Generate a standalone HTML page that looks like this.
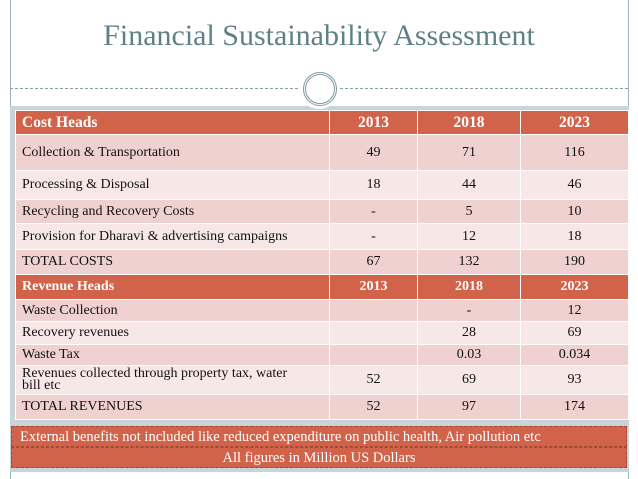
<!DOCTYPE html>
<html><head><meta charset="utf-8"><style>
body{margin:0;width:638px;height:479px;background:#fff;position:relative;overflow:hidden;font-family:"Liberation Serif",serif;}
.abs{position:absolute;}
table{border-collapse:collapse;table-layout:fixed;}
td{border:1.5px solid #fff;padding:0 0 0 6px;font-size:14px;color:#111;}
td.n{text-align:center;padding:0;}
tr.h td{background:#d0634a;color:#fff;font-weight:bold;font-size:15.5px;}
tr.h2 td{font-size:14px;}
tr.a td{background:#efd2cf;}
tr.b td{background:#f7e8e7;}
.box{position:absolute;left:11px;width:616px;background:#d0634a;color:#fff;font-size:14.5px;border:1px dashed #a04a36;box-sizing:border-box;}
</style></head><body>
<div class="abs" style="left:10px;top:0;width:1px;height:479px;background:#9fb3bb"></div>
<div class="abs" style="left:628px;top:0;width:1px;height:479px;background:#9fb3bb"></div>
<div class="abs" style="left:0;top:19px;width:638px;text-align:center;font-size:30px;color:#5f8088">Financial Sustainability Assessment</div>
<div class="abs" style="left:10px;top:88px;width:618px;border-top:1px dashed #8aa0a8"></div>
<div class="abs" style="left:10px;top:106px;width:619px;height:366px;background:#c9d3d9"></div>
<div class="abs" style="left:298px;top:67px;width:42px;height:42px;border-radius:50%;background:#fff"></div>
<div class="abs" style="left:303px;top:72px;width:28px;height:28px;border-radius:50%;border:3px double #7f989f;"></div>
<table class="abs" style="left:15px;top:110px;width:613px;">
<colgroup><col style="width:314px"><col style="width:88px"><col style="width:103px"><col style="width:108px"></colgroup>
<tr class="h" style="height:24px"><td>Cost Heads</td><td class="n">2013</td><td class="n">2018</td><td class="n">2023</td></tr>
<tr class="a" style="height:36px"><td>Collection &amp; Transportation</td><td class="n">49</td><td class="n">71</td><td class="n">116</td></tr>
<tr class="b" style="height:29px"><td>Processing &amp; Disposal</td><td class="n">18</td><td class="n">44</td><td class="n">46</td></tr>
<tr class="a" style="height:24px"><td>Recycling and Recovery Costs</td><td class="n">-</td><td class="n">5</td><td class="n">10</td></tr>
<tr class="b" style="height:26px"><td>Provision for Dharavi &amp; advertising campaigns</td><td class="n">-</td><td class="n">12</td><td class="n">18</td></tr>
<tr class="a" style="height:25px"><td>TOTAL COSTS</td><td class="n">67</td><td class="n">132</td><td class="n">190</td></tr>
<tr class="h h2" style="height:25px"><td>Revenue Heads</td><td class="n">2013</td><td class="n">2018</td><td class="n">2023</td></tr>
<tr class="a" style="height:22px"><td>Waste Collection</td><td class="n"></td><td class="n">-</td><td class="n">12</td></tr>
<tr class="b" style="height:23px"><td>Recovery revenues</td><td class="n"></td><td class="n">28</td><td class="n">69</td></tr>
<tr class="a" style="height:21px"><td>Waste Tax</td><td class="n"></td><td class="n">0.03</td><td class="n">0.034</td></tr>
<tr class="b" style="height:29px"><td style="line-height:12px">Revenues collected through property tax, water<br>bill etc</td><td class="n">52</td><td class="n">69</td><td class="n">93</td></tr>
<tr class="a" style="height:25px"><td>TOTAL REVENUES</td><td class="n">52</td><td class="n">97</td><td class="n">174</td></tr>
</table>
<div class="box" style="top:426px;height:21px;line-height:20px;padding-left:8px">External benefits not included like reduced expenditure on public health, Air pollution etc</div>
<div class="box" style="top:447px;height:21px;line-height:20px;text-align:center">All figures in Million US Dollars</div>
</body></html>
